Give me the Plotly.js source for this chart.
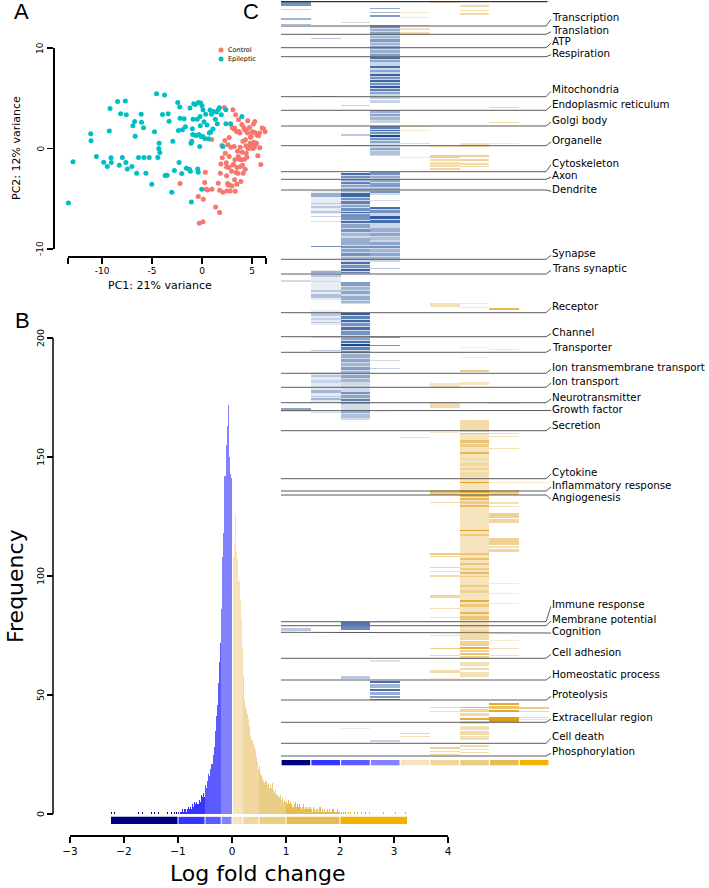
<!DOCTYPE html>
<html><head><meta charset="utf-8">
<script src="https://cdn.plot.ly/plotly-3.0.1.min.js"></script>
<style>html,body{margin:0;padding:0;background:#fff}#chart{width:709px;height:888px}</style>
</head><body><div id="chart"></div>
<script>
// ---------- Panel A: PCA ----------
const pcaControlX = [-2.19,-0.37,-0.27,0.1,0.13,0.27,0.33,0.43,0.56,0.96,
 1.0,1.36,1.63,1.76,1.76,1.83,1.89,1.99,2.03,2.09,
 2.23,2.29,2.33,2.43,2.46,2.46,2.49,2.56,2.59,2.62,
 2.69,2.72,2.72,2.76,2.82,2.89,2.96,2.99,3.02,3.09,
 3.09,3.16,3.19,3.22,3.26,3.29,3.32,3.36,3.42,3.46,
 3.49,3.52,3.55,3.59,3.62,3.65,3.69,3.75,3.79,3.82,
 3.85,3.89,3.92,3.99,4.02,4.05,4.09,4.12,4.19,4.25,
 4.29,4.32,4.35,4.39,4.42,4.45,4.49,4.55,4.58,4.62,
 4.68,4.75,4.82,4.85,4.92,4.95,5.02,5.08,5.15,5.18,
 5.22,5.28,5.35,5.45,5.51,5.58,5.65,5.75,5.78,5.88,
 6.01,6.15,6.31,5.28,3.26];
const pcaControlY = [-3.49,-4.78,-7.44,-7.28,-5.05,-3.39,-2.36,-4.05,-4.12,0.9,
 -4.05,-5.81,-3.46,-4.15,-6.38,-2.46,-1.53,0.3,-0.93,-4.35,
 4.09,0.8,-0.47,-1.43,-1.83,-2.72,-4.22,-3.49,0.37,-3.62,
 -1.89,-0.8,1.1,-3.62,-4.22,0.13,-2.26,-3.72,2.06,-1.63,
 3.85,-1.59,1.93,0.2,2.03,-1.13,-4.25,3.36,-2.39,1.69,
 -3.55,-1.89,-0.27,-2.46,-0.8,2.86,1.69,-1.06,1.53,0.13,
 -1.79,-3.29,-1.13,2.39,-0.37,-1.66,0.73,-2.46,2.06,-1.06,
 1.86,-2.06,0.86,0.27,-0.47,1.76,-0.86,1.53,2.76,-0.03,
 0.2,2.09,0.53,1.13,1.2,0.33,1.66,0,2.43,0.63,
 0.13,1.59,0.43,0.53,1.33,-0.73,1.26,1.53,0.07,-1.59,
 2.03,1.96,1.66,2.69,-3.12];
const pcaEpiX = [-13.9,-13.36,-12.9,-11.13,-11.1,-10.56,-9.83,-9.47,-9.27,-9.2,
 -9.1,-9.07,-8.44,-8.27,-8.14,-7.97,-7.67,-7.61,-7.57,-7.47,
 -7.01,-6.91,-6.74,-6.68,-6.54,-6.35,-6.08,-6.05,-5.85,-5.81,
 -5.61,-5.28,-5.02,-4.75,-4.55,-4.42,-4.32,-4.29,-4.22,-3.95,
 -3.75,-3.69,-3.49,-3.39,-3.29,-3.02,-2.92,-2.76,-2.43,-2.36,
 -2.29,-2.23,-2.19,-2.03,-1.96,-1.79,-1.66,-1.56,-1.26,-1.2,
 -1.16,-1.1,-1.03,-1.06,-0.96,-0.93,-0.9,-0.83,-0.66,-0.6,
 -0.47,-0.43,-0.37,-0.37,-0.3,-0.23,-0.2,-0.17,-0.13,-0.1,
 -0.03,0,0.1,0.1,0.2,0.27,0.37,0.5,0.66,0.73,
 0.8,0.86,0.96,1.1,1.13,1.33,1.46,1.53,1.63,1.73,
 1.93,2.09,2.39,2.39,2.86,3.99];
const pcaEpiY = [-2.4,-5.42,-1.33,1.46,0.76,-0.8,-1.36,-1.79,1.73,3.99,
 -0.93,-1.4,4.68,-1.66,3.46,-0.9,4.72,-1.4,3.36,-2.03,
 -1.79,2.26,2.69,1.23,-2.46,-0.9,3.42,2.62,2.06,-0.9,
 -2.46,-0.9,-3.55,1.66,5.45,-0.9,0,0.53,-0.4,3.39,
 5.32,-2.69,-2.66,3.46,2.72,-4.35,0.73,-2.19,4.58,1.79,
 -1.4,4.12,3.02,-2.49,1.86,2.96,2.16,-1.96,-2.06,4.02,
 -2.26,0.53,0.73,-5.32,1.96,1.4,2.92,4.45,4.39,1.3,
 2.92,-2.03,4.58,-2.36,1.4,0.2,3.19,2.26,4.52,1.2,
 -4.05,4.25,1.2,3.85,2.66,1.0,3.42,2.33,0.96,1.53,
 3.82,1.63,3.42,1.93,3.69,2.92,3.62,2.46,3.85,4.05,
 3.36,0.2,2.46,3.85,2.46,3.19];
const groupNames = ['Control','Epileptic'];
const groupColors = ['#F8766D','#00BFC4'];
const xTicksA = [-10,-5,0,5];
const yTicksA = [-10,0,10];

// ---------- Panel B: histogram of log fold change ----------
const histStart = -1.0;     // left edge of first bin
const histBinWidth = 0.02;
const histCounts = [
 1,0,1,1,2,1,2,1,2,3, 2,3,2,4,3,5,4,5,4,6,
 5,8,7,9,7,12,11,14,17,16, 19,21,25,28,35,41,46,55,64,72,
 86,108,118,142,155,163,172,150,143,141,
 0,108,114,126,110,107,98,90,82,70,
 58,48,45,44,42,40,37,33,31,30,
 28,27,24,22,19,20,17,16,15,14,
 13,14,12,13,11,12,11,13,10,9,
 10,8,8,7,8,6,7,5,6,5,
 5,4,6,4,5,4,3,4,5,3,
 4,3,4,3,2,3,4,2,3,2,
 3,2,3,2,1,3,2,1,2,2,
 1,3,1,2,1,2,1,1,2,1,
 2,1,1,2,1,1,1,2,1,1];
const tailValues = [-2.23,-2.17,-2.11,-1.73,-1.65,-1.49,-1.43,-1.36,-1.24,-1.19,-1.12,-1.06,-1.02,
 2.02,2.06,2.1,2.15,2.2,2.27,2.33,2.4,2.47,2.55,2.8,3.02,3.22];
const bandEdges = [-2.25,-1,-0.5,-0.2,0,0.2,0.5,1,2,3.25];
const bandColors = ['#00007f','#3535ff','#5b5bff','#8282ff','#f5e4bb','#f0d7a0','#ebcc84','#e5bb52','#f6b100'];
const xTicksB = [-3,-2,-1,0,1,2,3,4];
const yTicksB = [0,50,100,150,200];

// ---------- Panel C: category heat stripes ----------
const catLabels = ['Transcription','Translation','ATP','Respiration','Mitochondria','Endoplasmic reticulum','Golgi body','Organelle','Cytoskeleton','Axon','Dendrite','Synapse','Trans synaptic','Receptor','Channel','Transporter','Ion transmembrane transport','Ion transport','Neurotransmitter','Growth factor','Secretion','Cytokine','Inflammatory response','Angiogenesis','Immune response','Membrane potential','Cognition','Cell adhesion','Homeostatic process','Proteolysis','Extracellular region','Cell death','Phosphorylation'];
const catLineRow = [26,34.3,47.7,56.7,96.7,110.3,126,145.7,171.7,179.3,190,259.3,274,312.7,336.7,352.3,373.3,387.3,402.7,410.7,430.7,478.7,491,495,621.7,625.7,632.3,658.3,680,700,722.3,743.3,756];
const catLabelRow = [17.3,29.8,41.2,52.8,89.3,104,120,140,162.7,175,189.3,253.3,268.3,305.7,331.7,347.3,367.3,381,397,408.5,425,472,485,497.3,604,619,631,652.3,674.3,694.3,717,736.3,751.3];
// stripes per fold-change column: [firstRow, endRow, intensity]
const heatCol0 = [[2,6,0.6],[9,10,0.2],[18,20,0.4],[24,25,0.35],[280,282,0.2],[408,411,0.5],[628,631,0.3]];
const heatCol1 = [[190,214,0.1],[270,300,0.1],[310,325,0.1],[372,402,0.12],
 [38,39,0.3],[96,97,0.2],[193,197,0.45],[203,204,0.3],[206,208,0.3],[211,213,0.3],[216,217,0.25],[221,222,0.15],[246,247,0.6],[271,273,0.45],[274,277,0.3],[281,282,0.2],[290,292,0.3],[294,298,0.35],[313,316,0.3],[318,320,0.25],[322,323,0.3],[337,338,0.2],[350,351,0.3],[375,377,0.3],[380,383,0.25],[390,393,0.4],[396,397,0.3],[398,400,0.4],[412,413,0.2]];
const heatCol2 = [[173,274,0.2],[282,304,0.2],[313,420,0.2],
 [22,23,0.2],[105,106,0.25],[134,136,0.3],[145,146,0.2],
 [173,175,0.8],[176,178,0.6],[179,181,0.5],[182,184,0.7],[185,187,0.5],[188,192,0.4],[193,197,0.85],[198,200,0.6],[201,204,0.7],[205,207,0.5],[208,211,0.6],[212,213,0.85],
 [214,220,0.6],[221,223,0.8],[224,228,0.5],[229,232,0.6],[233,236,0.4],[238,245,0.45],[246,248,0.6],[249,252,0.5],[253,256,0.6],[257,260,0.4],[262,264,0.8],[265,268,0.6],[269,271,0.85],[272,273,0.7],
 [282,286,0.55],[287,290,0.4],[291,294,0.5],[296,300,0.45],[301,303,0.4],[313,315,0.9],[316,319,0.7],[320,322,0.85],[323,326,0.6],[327,330,0.8],[331,335,0.6],[337,340,0.5],[341,343,0.8],[344,346,1.0],[347,350,0.7],[351,353,0.6],[354,358,0.45],[359,362,0.5],[363,366,0.4],[367,370,0.55],[371,373,0.4],[375,378,0.5],[379,382,0.4],[392,394,0.6],[395,398,0.5],[399,401,0.7],[402,404,0.5],[410,413,0.45],[414,418,0.35],
 [622,625,0.75],[626,630,0.65],[658,659,0.1],[676,679,0.3],[728,729,0.1]];
const heatCol3 = [[25,97,0.22],[110,123,0.2],[126,156,0.2],[172,195,0.2],[207,262,0.22],
 [8,9,0.5],[12,13,0.4],[15,17,0.55],[25,28,0.6],[29,31,0.45],[32,35,0.5],[36,38,0.4],[39,42,0.55],[43,45,0.4],[46,49,0.5],[50,53,0.45],[54,56,0.55],[57,59,0.8],[60,62,0.5],[66,68,0.8],[70,72,0.5],[74,76,0.85],[77,79,0.6],[80,82,0.85],[83,85,0.6],[86,88,0.9],[89,91,0.7],[92,94,0.5],[97,99,0.3],[100,103,0.25],[110,113,0.45],[114,116,0.5],[117,120,0.4],[121,122,0.3],[126,129,0.7],[130,131,0.8],[132,134,0.6],[135,137,1.0],[138,140,0.6],[141,143,0.5],[148,150,0.5],[151,155,0.35],[172,175,0.6],[176,178,0.45],[179,182,0.5],[183,187,0.55],[188,190,0.45],[191,193,0.6],[200,201,0.2],[207,209,0.8],[210,213,0.6],[216,219,0.9],[220,223,0.8],[228,232,0.45],[233,236,0.5],[237,240,0.35],[242,245,0.5],[246,248,0.6],[249,252,0.4],[253,256,0.5],[257,260,0.4],[268,269,0.3],[337,338,0.5],[345,346,0.6],[360,361,0.2],[368,369,0.25],[622,623,0.15],[660,662,0.15],[681,683,0.8],[684,688,0.4],[689,691,0.8],[692,695,0.45],[696,698,0.55],[699,700,0.8],[740,742,0.25]];
const heatCol4 = [[12,13,0.2],[17,18,0.2],[25,26,0.35],[28,30,0.3],[32,35,0.3],[126,127,0.25],[130,131,0.2],[143,144,0.35],[157,158,0.2],[437,438,0.3],[700,701,0.2],[733,734,0.4],[736,737,0.3]];
const heatCol5 = [[1,3,0.3],[146,147,0.3],[155,158,0.45],[159,161,0.35],[162,167,0.3],[168,170,0.4],[303,307,0.3],[383,387,0.25],[403,408,0.35],[432,433,0.2],[490,495,0.5],[502,503,0.3],[553,555,0.5],[556,557,0.4],[567,568,0.4],[571,572,0.3],[575,577,0.35],[595,598,0.4],[608,609,0.3],[617,618,0.3],[635,636,0.3],[648,649,0.5],[655,656,0.4],[670,673,0.35],[678,679,0.2],[707,708,0.35],[711,712,0.3],[747,749,0.45],[751,752,0.35],[754,755,0.4]];
const heatCol6 = [[5,7,0.35],[10,11,0.3],[13,15,0.35],[143,147,0.3],[155,157,0.45],[159,161,0.4],[163,165,0.35],[166,167,0.4],[303,304,0.2],[307,308,0.2],[347,348,0.15],[357,358,0.15],[370,372,0.5],[382,385,0.25],[420,432,0.35],
 [433,633,0.26],[433,434,0.6],[440,443,0.6],[444,447,0.5],[452,454,0.7],[458,460,0.35],[463,466,0.4],[468,470,0.45],[472,477,0.35],[482,483,0.9],[490,493,0.8],[494,497,0.6],[498,500,0.7],[501,504,0.5],[505,507,0.65],[517,518,0.3],[530,531,0.9],[534,536,0.5],[553,555,0.55],[558,560,0.6],[563,565,0.55],[568,570,0.5],[572,574,0.65],[576,577,0.5],[585,587,0.5],[590,593,0.45],[600,602,0.8],[604,607,0.55],[612,614,0.7],[616,620,0.55],[625,628,0.35],[630,633,0.4],
 [634,640,0.35],[641,646,0.45],[647,649,0.8],[650,652,0.45],[653,655,0.6],[656,658,0.45],[662,666,0.3],[668,670,0.35],[672,677,0.3],[707,708,0.7],[709,712,0.4],[713,716,0.35],[718,720,0.8],[721,724,0.35],[726,730,0.3],[731,735,0.35],[736,740,0.3],[745,747,0.35],[749,750,0.3],[752,753,0.35]];
const heatCol7 = [[107,108,0.4],[122,123,0.35],[143,144,0.2],[308,310,0.7],[349,350,0.25],[403,404,0.3],[433,434,0.3],[436,437,0.3],[448,449,0.3],[482,483,0.2],[490,495,0.5],[502,504,0.3],[506,507,0.3],[513,518,0.45],[519,523,0.4],[538,545,0.45],[546,548,0.3],[549,552,0.4],[583,584,0.2],[593,594,0.2],[603,604,0.2],[640,641,0.2],[648,649,0.3],[655,656,0.3],[703,705,0.85],[706,709,0.6],[710,712,0.85],[717,722,0.95]];
const heatCol8 = [[482,483,0.2],[707,709,0.5],[711,712,0.4],[717,718,0.35],[719,720,0.3],[743,744,0.2]];
const heatColumns = [heatCol0,heatCol1,heatCol2,heatCol3,heatCol4,heatCol5,heatCol6,heatCol7,heatCol8];
const heatRows = 760;

// ---------- build ----------
const W = 709, H = 888;
const px = v => v / W, py = v => 1 - v / H;
const FONT = 'DejaVu Sans, Verdana, sans-serif';
function bandColor(v){ for (let i=0;i<bandColors.length;i++){ if (v < bandEdges[i+1]) return bandColors[i]; } return bandColors[bandColors.length-1]; }

const histX = histCounts.map((c,i) => histStart + histBinWidth*(i+0.5));
const traces = [];
traces.push({type:'scatter', mode:'markers', x:pcaControlX, y:pcaControlY, xaxis:'x', yaxis:'y', cliponaxis:false,
  marker:{size:5, color:groupColors[0]}, hoverinfo:'skip'});
traces.push({type:'scatter', mode:'markers', x:pcaEpiX, y:pcaEpiY, xaxis:'x', yaxis:'y', cliponaxis:false,
  marker:{size:5, color:groupColors[1]}, hoverinfo:'skip'});
traces.push({type:'bar', x:histX, y:histCounts, width:histBinWidth, xaxis:'x2', yaxis:'y2',
  marker:{color:histX.map(bandColor), line:{width:0}}, hoverinfo:'skip'});
traces.push({type:'bar', x:tailValues, y:tailValues.map(()=>1), width:0.016, xaxis:'x2', yaxis:'y2',
  marker:{color:tailValues.map(bandColor), line:{width:0}}, hoverinfo:'skip'});

const z = [], rowIdx = [];
for (let r=0;r<heatRows;r++){ z.push(new Array(9).fill(0)); rowIdx.push(r); }
heatColumns.forEach((list,c) => {
  const s = c < 4 ? -1 : 1;
  list.forEach(([a,b,v]) => { const e = Math.max(b, a+1); for (let r=a;r<e && r<heatRows;r++) z[r][c] = s*v; });
});
traces.push({type:'heatmap', x:[0,1,2,3,4,5,6,7,8], y:rowIdx, z:z, xaxis:'x3', yaxis:'y3', zmin:-1, zmax:1, zsmooth:false,
  showscale:false, hoverinfo:'skip',
  colorscale:[[0,'rgb(25,75,150)'],[0.5,'rgb(255,255,255)'],[1,'rgb(222,152,10)']]});

const lx = [], ly = [];
catLabels.forEach((t,i) => { lx.push(-0.5, 8.40, 8.57, null); ly.push(catLineRow[i], catLineRow[i], catLabelRow[i]+2, null); });
traces.push({type:'scatter', mode:'lines', x:lx, y:ly, xaxis:'x3', yaxis:'y3', line:{color:'#5a5a5a', width:1}, hoverinfo:'skip'});
traces.push({type:'scatter', mode:'lines', x:[-0.5,8.45], y:[1.7,1.7], xaxis:'x3', yaxis:'y3', line:{color:'#000', width:1}, hoverinfo:'skip'});

const shapes = [];
// panel B y-axis line (0..200 only)
shapes.push({type:'line', xref:'paper', yref:'y2', x0:px(53), x1:px(53), y0:0, y1:200, line:{color:'#000', width:1.5}});
// panel B colour key
for (let i=0;i<bandColors.length;i++){
  shapes.push({type:'rect', xref:'x2', yref:'y2', x0:bandEdges[i]+0.009, x1:bandEdges[i+1]-0.009, y0:-1.2, y1:-4.2,
    fillcolor:bandColors[i], line:{width:0}});
}
// panel C colour key
for (let c=0;c<9;c++){
  shapes.push({type:'rect', xref:'x3', yref:'y3', x0:c-0.5+0.02, x1:c+0.5-0.02, y0:760, y1:765.3,
    fillcolor:bandColors[c], line:{width:0}});
}
// legend dots
[50,59].forEach((yy,i) => shapes.push({type:'circle', xref:'paper', yref:'paper', x0:px(218.5), x1:px(223.5), y0:py(yy+2.5), y1:py(yy-2.5),
  fillcolor:groupColors[i], line:{width:0}}));

const annotations = [];
const ann = (text, x, y, size, extra) => annotations.push(Object.assign({text, xref:'paper', yref:'paper', x:px(x), y:py(y), showarrow:false,
  xanchor:'center', yanchor:'middle', font:{family:FONT, size, color:'#000'}}, extra||{}));
const letterFont = {family:'Liberation Sans, Arial', size:22, color:'#000'};
ann('A', 21, 12, 22, {font:letterFont});
ann('B', 22, 320, 22, {font:letterFont});
ann('C', 251, 12, 22, {font:letterFont});
ann('PC1: 21% variance', 160, 285, 11);
ann('PC2: 12% variance', 17, 148, 11, {textangle:-90});
ann('Frequency', 15, 586, 22, {textangle:-90});
ann('Log fold change', 258, 873, 22);
ann(groupNames[0], 226, 50, 6.5, {xanchor:'left'});
ann(groupNames[1], 226, 59, 6.5, {xanchor:'left'});
// rotated y tick labels
yTicksA.forEach(v => annotations.push({text:String(v), xref:'paper', yref:'y', x:px(40), y:v, showarrow:false, textangle:-90,
  xanchor:'center', yanchor:'middle', font:{family:FONT, size:9, color:'#000'}}));
yTicksB.forEach(v => annotations.push({text:String(v), xref:'paper', yref:'y2', x:px(40), y:v, showarrow:false, textangle:-90,
  xanchor:'center', yanchor:'middle', font:{family:FONT, size:9.5, color:'#000'}}));
catLabels.forEach((t,i) => annotations.push({text:t, xref:'paper', yref:'y3', x:px(550.5), y:catLabelRow[i], xanchor:'left', yanchor:'middle',
  showarrow:false, borderpad:0, font:{family:FONT, size:10.3, color:'#000'}}));

const axBase = {showgrid:false, zeroline:false, fixedrange:true, ticks:'outside', ticklen:6, tickwidth:1.5, tickcolor:'#000',
  linecolor:'#000', linewidth:1.5};
const layout = {
  width:W, height:H, margin:{l:0,r:0,t:0,b:0}, paper_bgcolor:'#fff', plot_bgcolor:'rgba(0,0,0,0)', showlegend:false,
  xaxis:Object.assign({}, axBase, {domain:[px(68),px(266)], range:[-13.4,6.4], anchor:'free', position:py(256), showline:true,
    tickvals:[-13.4].concat(xTicksA, [6.4]), ticktext:[''].concat(xTicksA.map(String), ['']), tickfont:{family:FONT, size:9, color:'#000'}}),
  yaxis:Object.assign({}, axBase, {domain:[py(249),py(48)], range:[-10,10], anchor:'free', position:px(53), showline:true,
    tickvals:yTicksA, showticklabels:false}),
  xaxis2:Object.assign({}, axBase, {domain:[px(70),px(448)], range:[-3,4], anchor:'free', position:py(835), showline:true,
    tickvals:xTicksB, tickfont:{family:FONT, size:10.5, color:'#000'}}),
  yaxis2:Object.assign({}, axBase, {domain:[py(825),py(338)], range:[-4.62,200], anchor:'free', position:px(53), showline:false,
    tickvals:yTicksB, showticklabels:false}),
  xaxis3:{domain:[px(281),px(551.6)], range:[-0.5,8.587], visible:false, anchor:'y3', fixedrange:true},
  yaxis3:{domain:[py(766),1], range:[766,0], visible:false, anchor:'x3', fixedrange:true},
  shapes, annotations, bargap:0
};
Plotly.newPlot('chart', traces, layout, {staticPlot:true, displayModeBar:false});
</script></body></html>
